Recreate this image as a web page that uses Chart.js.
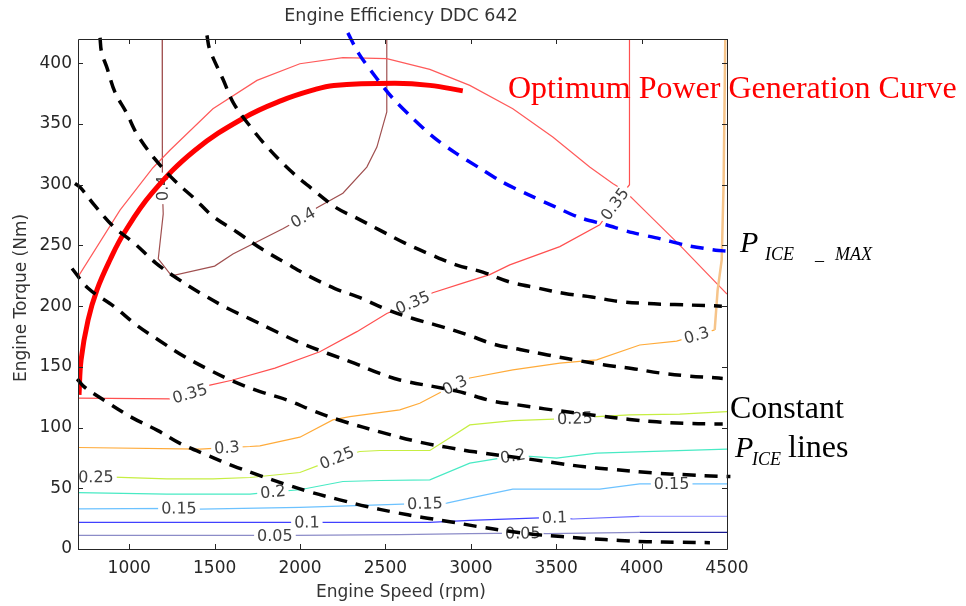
<!DOCTYPE html>
<html>
<head>
<meta charset="utf-8">
<title>Engine Efficiency DDC 642</title>
<script src="https://cdn.jsdelivr.net/npm/chart.js@4.4.1/dist/chart.umd.min.js"></script>
<style>
  html, body { margin: 0; padding: 0; background: #fff; }
  #wrap { position: relative; width: 966px; height: 606px; }
</style>
</head>
<body>
<div id="wrap"><canvas id="effChart"></canvas></div>
<script>
// axis ranges and tick values
const speedMin = 700, speedMax = 4500;
const torqueMin = 0, torqueMax = 420;
const speedTicks = [1000, 1500, 2000, 2500, 3000, 3500, 4000, 4500];
const torqueTicks = [0, 50, 100, 150, 200, 250, 300, 350, 400];

// efficiency contours as [rpm, Nm]
const eff005 = [[700,11.2],[1724,11.2],[1853,11.2],[1970,11.2],[2584,11.8],[2994,12.6],[3304,13],[3444,12.6],[3989,13.7],[4500,13.7]];
const eff010 = [[700,21.9],[1923,21.9],[2040,22],[2145,21.9],[2760,21.9],[2994,23.5],[3363,25.5],[3491,26],[3597,24.7],[3989,26.8],[4500,26.8]];
const eff015 = [[700,33.1],[1291,33.5],[1414,32.9],[1999,34.2],[2467,36.4],[2731,37.5],[2859,37.8],[2994,41.9],[3246,49.3],[3755,49.3],[3989,53.7],[4176,53.7],[4500,53.7]];
const eff020 = [[700,46.5],[1221,45.2],[1707,45.2],[1841,47],[1999,48.8],[2251,55.6],[2467,56.4],[2760,57],[2994,70.7],[3246,76.5],[3345,76.2],[3503,74.8],[3737,79],[4500,82.2]];
const eff025 = [[700,59.2],[805,59.3],[905,59.2],[1221,57.8],[1490,57.8],[1707,58.9],[1999,63],[2116,69.3],[2216,75],[2350,80.3],[2467,81.1],[2760,81.1],[2859,89.9],[2994,102.2],[3246,105.8],[3609,107.5],[3737,109],[3930,110.4],[4223,111],[4500,113.2]];
const eff030 = [[700,83.6],[1414,82.2],[1572,83.5],[1707,84.4],[1765,85],[1999,92.1],[2192,106.3],[2292,109],[2584,114.6],[2701,120],[2818,128.6],[2906,135],[2994,140.8],[3246,147.5],[3521,153],[3737,155.7],[3989,168],[4205,171.2],[4322,176],[4428,180.4],[4445,213],[4469,238],[4480,300],[4490,420]];
const eff035Low = [[700,124.2],[1248,123.6],[1355,128],[1473,135],[1601,139],[1853,149],[2116,162.4],[2333,179],[2508,194],[2660,203],[2777,211],[2953,219],[3111,226],[3228,234],[3521,249],[3755,267],[3843,284],[3929,300],[3929,420]];
const eff035High = [[700,224],[946,279],[1139,314],[1238,328.4],[1490,362.6],[1748,385.9],[1999,399.6],[2251,404.6],[2508,403.8],[2760,395],[2994,381.8],[3246,362.6],[3480,339.3],[3696,314.6],[3831,301],[3900,295],[4030,277],[4223,250.3],[4500,210]];
const eff040 = [[1193,420],[1193,318],[1195,297],[1199,276],[1170,239],[1248,225],[1500,233],[1607,243],[1902,264],[2017,273],[2099,281],[2251,293],[2391,314.5],[2450,331],[2508,360],[2508,420]];

// inline contour labels
const labelText = ['0.05','0.05','0.1','0.1','0.15','0.15','0.15','0.2','0.2','0.25','0.25','0.25','0.3','0.3','0.3','0.35','0.35','0.35','0.4','0.4'];
const labelRpm  = [1853, 3304, 2040, 3491, 1291, 2731, 4176, 1841, 3246, 805, 2216, 3609, 1572, 2906, 4322, 1355, 2660, 3843, 1195, 2017];
const labelNm   = [11.2, 13, 22, 26, 33.5, 37.5, 53.7, 47, 76.5, 59.3, 75, 107.5, 83.5, 135, 176, 128, 203, 284, 297, 273];

// constant engine power lines, [rpm, Nm]
const powerA = [[695,140],[741,133],[873,120.7],[1019,108],[1168,97.5],[1297,87],[1461,77],[1607,68.5],[1765,60.5],[1911,53.5],[2058,47],[2233,40.5],[2391,35],[2543,30.5],[2719,26],[2877,22.5],[3035,18.6],[3216,14.8],[3374,12],[3532,10.2],[3696,8.5],[3872,7.1],[4030,6],[4223,5.5],[4400,5.2]];
const powerB = [[665,231],[761,214.5],[908,200],[1042,184.5],[1180,171.3],[1317,159],[1458,148.3],[1604,138.4],[1762,129.8],[1923,122.8],[2075,114],[2233,106],[2505,95],[2707,87.8],[2865,83.7],[3023,80],[3374,73.4],[3509,70.6],[3667,67.7],[3831,65.6],[4059,62.7],[4264,61.1],[4445,59.9],[4520,59.7]];
const powerC = [[682,301],[712,298],[800,282.5],[911,265],[1028,252],[1156,235.5],[1279,223],[1426,210],[1578,198],[1707,189.5],[1865,178.7],[2011,169.2],[2163,161],[2321,152.8],[2467,144.6],[2584,139.2],[2918,130],[3123,122],[3275,118.7],[3433,115.4],[3755,109.6],[3930,106.7],[4088,104.7],[4252,103.5],[4410,103],[4475,103]];
const powerD = [[829,421],[838,409],[868,397],[917,376],[985,359],[1044,342],[1151,321],[1268,303],[1379,289],[1490,274],[1630,261],[1777,247],[1923,235],[2058,224.3],[2204,214.5],[2362,206.3],[2508,197.2],[2660,189.8],[2818,183.6],[2976,176.6],[3140,168.4],[3287,164.3],[3450,159.8],[3608,155.7],[3784,151.6],[3942,148.7],[4106,145],[4270,142.5],[4428,141],[4475,140.5]];
const powerE = [[1455,423],[1472,411],[1549,386.8],[1613,366.6],[1712,347.3],[1812,330.4],[1935,312.7],[2058,298],[2216,280.7],[2321,273.3],[2467,262.6],[2614,251.9],[2760,242.8],[2918,233.8],[3070,228],[3228,219.9],[3392,214.9],[3550,210.4],[3708,207.5],[3872,203.8],[4036,202.1],[4194,201.3],[4369,200.5],[4470,200]];

// maximum engine power line and optimum generation curve
const pIceMax = [[2280,425],[2344,408],[2444,388.5],[2538,372],[2660,354.7],[2783,339],[2912,326],[3053,313.6],[3187,302],[3333,292],[3491,282],[3638,272.9],[3790,267],[3948,260.5],[4106,255.6],[4258,250.2],[4434,246.1],[4500,245.3]];
const optimumCurve = [[706,127],[718,155.7],[759,188.6],[811,213.4],[887,238],[969,260],[1133,293],[1385,328.4],[1677,355.5],[1894,369.5],[2069,377.7],[2198,381.8],[2555,383.5],[2760,381.8],[2953,377.3]];

const toXY = pts => pts.map(p => ({ x: p[0], y: p[1] }));

function contour(level, pts, color, extra) {
  return Object.assign({
    label: level,
    data: toXY(pts),
    showLine: true,
    borderColor: color,
    borderWidth: 1.2,
    pointRadius: 0,
    tension: 0,
    order: 2
  }, extra || {});
}

function powerLine(name, pts) {
  return {
    label: name,
    data: toXY(pts),
    showLine: true,
    borderColor: '#000000',
    borderWidth: 3.5,
    borderDash: [13, 9],
    pointRadius: 0,
    tension: 0.35,
    clip: false,
    order: 1
  };
}

const datasets = [
  contour('0.05', eff005, '#8c8cc8', { segment: { borderColor: c => c.p0.parsed.x >= 3980 ? '#16168f' : '#8c8cc8' } }),
  contour('0.1', eff010, '#4040ff', { segment: { borderColor: c => c.p0.parsed.x >= 3980 ? '#a4a4ff' : (c.p0.parsed.x >= 3590 ? '#6a6aff' : '#4040ff') } }),
  contour('0.15', eff015, '#6cc2ff'),
  contour('0.2', eff020, '#48eac4'),
  contour('0.25', eff025, '#c6ee42'),
  contour('0.3', eff030, '#ffab3a', { segment: {
    borderColor: c => c.p0.parsed.x >= 4420 ? '#f6c48a' : '#ffab3a',
    borderWidth: c => c.p0.parsed.x >= 4420 ? 2.5 : 1.2 } }),
  contour('0.35', eff035Low, '#ff5050'),
  contour('0.35', eff035High, '#ff5a5a'),
  contour('0.4', eff040, '#a05050'),
  {
    label: 'P_ICE_MAX',
    data: toXY(pIceMax),
    showLine: true,
    borderColor: '#0000ff',
    borderWidth: 3.5,
    borderDash: [13, 9],
    pointRadius: 0,
    tension: 0.3,
    clip: false,
    order: 1
  },
  powerLine('P5', powerE),
  powerLine('P4', powerD),
  powerLine('P3', powerC),
  powerLine('P2', powerB),
  powerLine('P1', powerA),
  {
    label: 'Optimum',
    data: toXY(optimumCurve),
    showLine: true,
    borderColor: '#ff0000',
    borderWidth: 5,
    pointRadius: 0,
    tension: 0.4,
    order: 1
  }
];

const sansFont = '"DejaVu Sans", Arial, sans-serif';
const serifFont = '"Liberation Serif", "Times New Roman", serif';

// inline labels: white box cut into the contour, text along the local slope
const contourLabels = {
  id: 'contourLabels',
  afterDatasetDraw(chart, args) {
    if (args.index !== 0) return;
    const ctx = chart.ctx;
    const xs = chart.scales.x, ys = chart.scales.y;
    for (let i = 0; i < labelText.length; i++) {
      const px = xs.getPixelForValue(labelRpm[i]);
      const py = ys.getPixelForValue(labelNm[i]);
      let best = Infinity, angle = 0;
      chart.data.datasets.forEach(ds => {
        if (ds.label !== labelText[i]) return;
        for (let k = 0; k < ds.data.length - 1; k++) {
          const ax = xs.getPixelForValue(ds.data[k].x), ay = ys.getPixelForValue(ds.data[k].y);
          const bx = xs.getPixelForValue(ds.data[k + 1].x), by = ys.getPixelForValue(ds.data[k + 1].y);
          const dx = bx - ax, dy = by - ay;
          const len2 = dx * dx + dy * dy || 1;
          let t = ((px - ax) * dx + (py - ay) * dy) / len2;
          t = Math.max(0, Math.min(1, t));
          const d = Math.hypot(ax + t * dx - px, ay + t * dy - py);
          if (d < best) { best = d; angle = Math.atan2(dy, dx); }
        }
      });
      if (angle > 1.4) angle -= Math.PI;
      if (angle < -1.75) angle += Math.PI;
      ctx.save();
      ctx.translate(px, py);
      ctx.rotate(angle);
      ctx.font = '16px ' + sansFont;
      const w = ctx.measureText(labelText[i]).width;
      ctx.fillStyle = '#ffffff';
      ctx.fillRect(-w / 2 - 3, -8, w + 6, 16);
      ctx.fillStyle = '#404040';
      ctx.textAlign = 'center';
      ctx.textBaseline = 'middle';
      ctx.fillText(labelText[i], 0, 1);
      ctx.restore();
    }
  }
};

// box around the axes with inward tick marks
const axesBox = {
  id: 'axesBox',
  afterDatasetsDraw(chart) {
    const ctx = chart.ctx;
    const a = chart.chartArea;
    const xs = chart.scales.x, ys = chart.scales.y;
    ctx.save();
    ctx.strokeStyle = '#262626';
    ctx.lineWidth = 1;
    ctx.beginPath();
    ctx.rect(Math.round(a.left) + 0.5, Math.round(a.top) + 0.5, Math.round(a.right - a.left), Math.round(a.bottom - a.top));
    speedTicks.forEach(v => {
      const x = Math.round(xs.getPixelForValue(v)) + 0.5;
      ctx.moveTo(x, a.bottom); ctx.lineTo(x, a.bottom - 5);
      ctx.moveTo(x, a.top); ctx.lineTo(x, a.top + 5);
    });
    torqueTicks.forEach(v => {
      const y = Math.round(ys.getPixelForValue(v)) + 0.5;
      ctx.moveTo(a.left, y); ctx.lineTo(a.left + 5, y);
      ctx.moveTo(a.right, y); ctx.lineTo(a.right - 5, y);
    });
    ctx.stroke();
    ctx.restore();
  }
};

// titles and the text notes beside the plot
const notes = {
  id: 'notes',
  afterDraw(chart) {
    const ctx = chart.ctx;
    ctx.save();
    ctx.fillStyle = '#333333';
    ctx.textAlign = 'center';
    ctx.textBaseline = 'alphabetic';
    ctx.font = '17.5px ' + sansFont;
    ctx.fillText('Engine Efficiency DDC 642', 401, 21);
    ctx.font = '17px ' + sansFont;
    ctx.fillText('Engine Speed (rpm)', 401, 597);
    ctx.save();
    ctx.translate(26, 298);
    ctx.rotate(-Math.PI / 2);
    ctx.fillText('Engine Torque (Nm)', 0, 0);
    ctx.restore();

    ctx.textAlign = 'left';
    ctx.fillStyle = '#ff0000';
    ctx.font = '32px ' + serifFont;
    ctx.fillText('Optimum Power Generation Curve', 508, 98);

    ctx.fillStyle = '#000000';
    ctx.font = 'italic 30px ' + serifFont;
    ctx.fillText('P', 740, 252);
    ctx.font = 'italic 18px ' + serifFont;
    ctx.fillText('ICE', 765, 260);
    ctx.fillText('_', 815, 260);
    ctx.fillText('MAX', 835, 260);

    ctx.font = '32px ' + serifFont;
    ctx.fillText('Constant', 730, 418);
    ctx.font = 'italic 30px ' + serifFont;
    ctx.fillText('P', 735, 457);
    ctx.font = 'italic 18px ' + serifFont;
    ctx.fillText('ICE', 752, 465);
    ctx.font = '32px ' + serifFont;
    ctx.fillText('lines', 788, 457);
    ctx.restore();
  }
};

new Chart(document.getElementById('effChart'), {
  type: 'scatter',
  data: { datasets: datasets },
  options: {
    responsive: true,
    maintainAspectRatio: false,
    animation: false,
    events: [],
    layout: { padding: { top: 39, right: 239, bottom: 0, left: 0 } },
    plugins: { legend: { display: false }, tooltip: { enabled: false }, title: { display: false } },
    scales: {
      x: {
        type: 'linear',
        min: speedMin,
        max: speedMax,
        afterFit: s => { s.height = 57; },
        afterBuildTicks: s => { s.ticks = speedTicks.map(v => ({ value: v })); },
        grid: { display: false, drawTicks: false },
        border: { display: false },
        ticks: { padding: 9, color: '#262626', font: { family: sansFont, size: 17 }, maxRotation: 0, callback: v => String(v) }
      },
      y: {
        type: 'linear',
        min: torqueMin,
        max: torqueMax,
        afterFit: s => { s.width = 78; },
        afterBuildTicks: s => { s.ticks = torqueTicks.map(v => ({ value: v })); },
        grid: { display: false, drawTicks: false },
        border: { display: false },
        ticks: { padding: 6, color: '#262626', font: { family: sansFont, size: 17 }, callback: v => String(v) }
      }
    }
  },
  plugins: [contourLabels, axesBox, notes]
});
</script>
</body>
</html>
